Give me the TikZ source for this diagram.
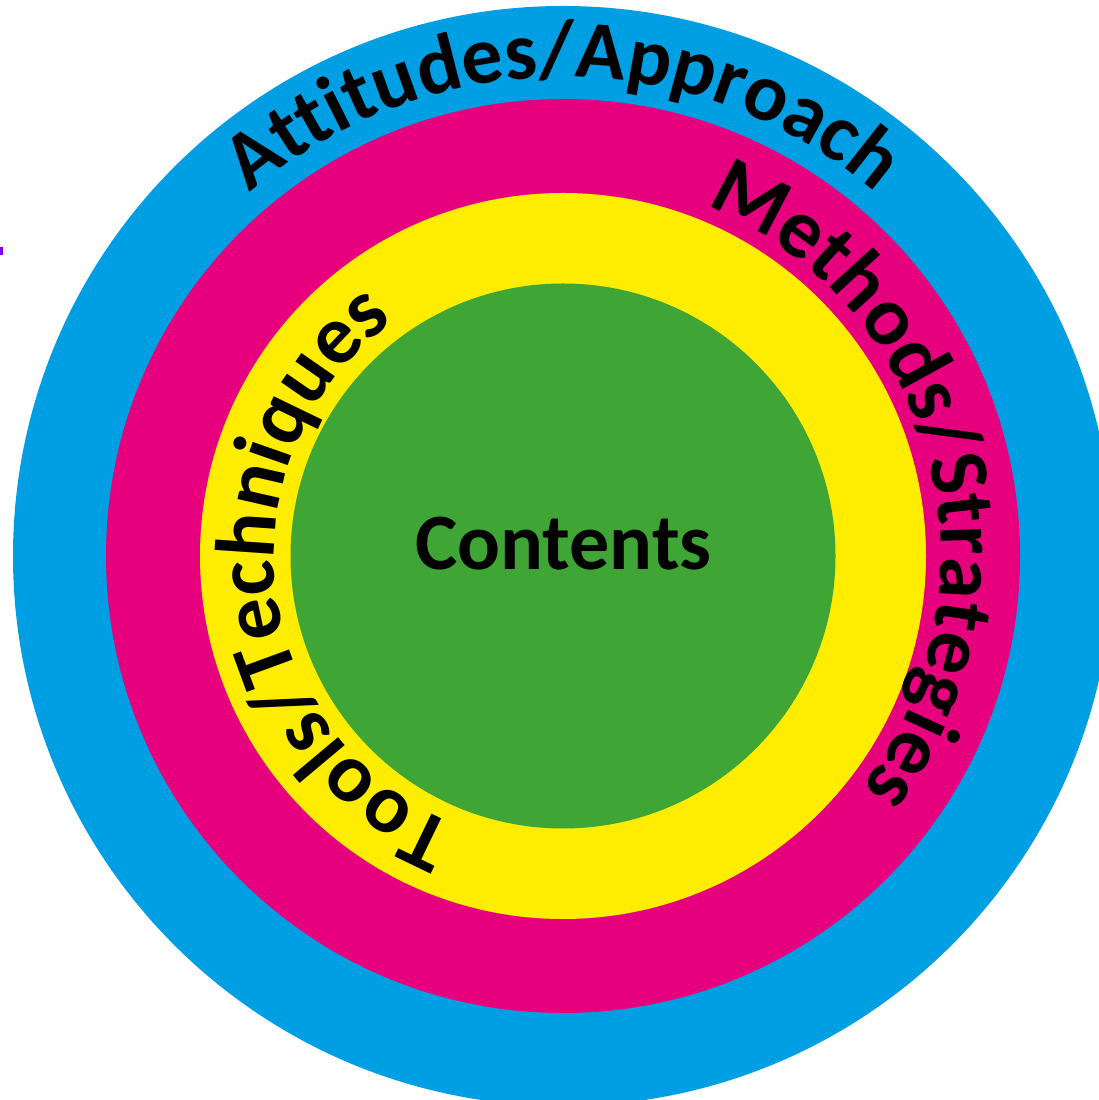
\documentclass[tikz,border=0pt]{standalone}
\usepackage{fontspec}
\setmainfont{Carlito}
\usetikzlibrary{decorations.text}
\definecolor{ringblue}{HTML}{009FE3}
\definecolor{ringmag}{HTML}{E6007E}
\definecolor{ringyel}{HTML}{FFED00}
\definecolor{ringgreen}{HTML}{3FA535}
\definecolor{markviolet}{HTML}{7F00FF}
\newcommand{\centerfont}{\fontsize{80}{96}\selectfont\bfseries}
\newcommand{\arcfont}{\fontsize{84}{100}\selectfont\bfseries}
\newcommand{\outerfont}{\fontsize{82}{98}\selectfont\bfseries}
\begin{document}
\begin{tikzpicture}[x=1pt,y=1pt,
  ring/.style={circle, draw=none, inner sep=0pt, minimum size=#1},
  arclabel/.style={decorate}]
\useasboundingbox (0,0) rectangle (1099,1100);
\clip (0,0) rectangle (1099,1100);
\fill[white] (0,0) rectangle (1099,1100);
\coordinate (c) at (563,544);
\node[ring=1100, fill=ringblue] (blue) at (c) {};
\node[ring=914, fill=ringmag] (magenta) at (c) {};
\node[ring=726, fill=ringyel] (yellow) at (c) {};
\node[ring=545, fill=ringgreen] (green) at (c) {};
\node[anchor=base, inner sep=0pt, font=\centerfont] (contents) at (563.5,530) {Contents};
\path[arclabel, decoration={text along path, text align=center,
  text={|\outerfont|Attitudes/Approach}}]
  (c) ++(137:479) arc[start angle=137, end angle=43, radius=479];
\path[arclabel, decoration={text along path, text align=center,
  text={|\arcfont|Methods/Strategies}}]
  (c) ++(74:378) arc[start angle=74, end angle=-44, radius=378];
\path[arclabel, decoration={text along path, text align=center,
  text={|\arcfont|Tools/Techniques}}]
  (c) ++(254:289) arc[start angle=254, end angle=120, radius=289];
\fill[markviolet] (0,845) rectangle (2.5,853);
\end{tikzpicture}
\end{document}
